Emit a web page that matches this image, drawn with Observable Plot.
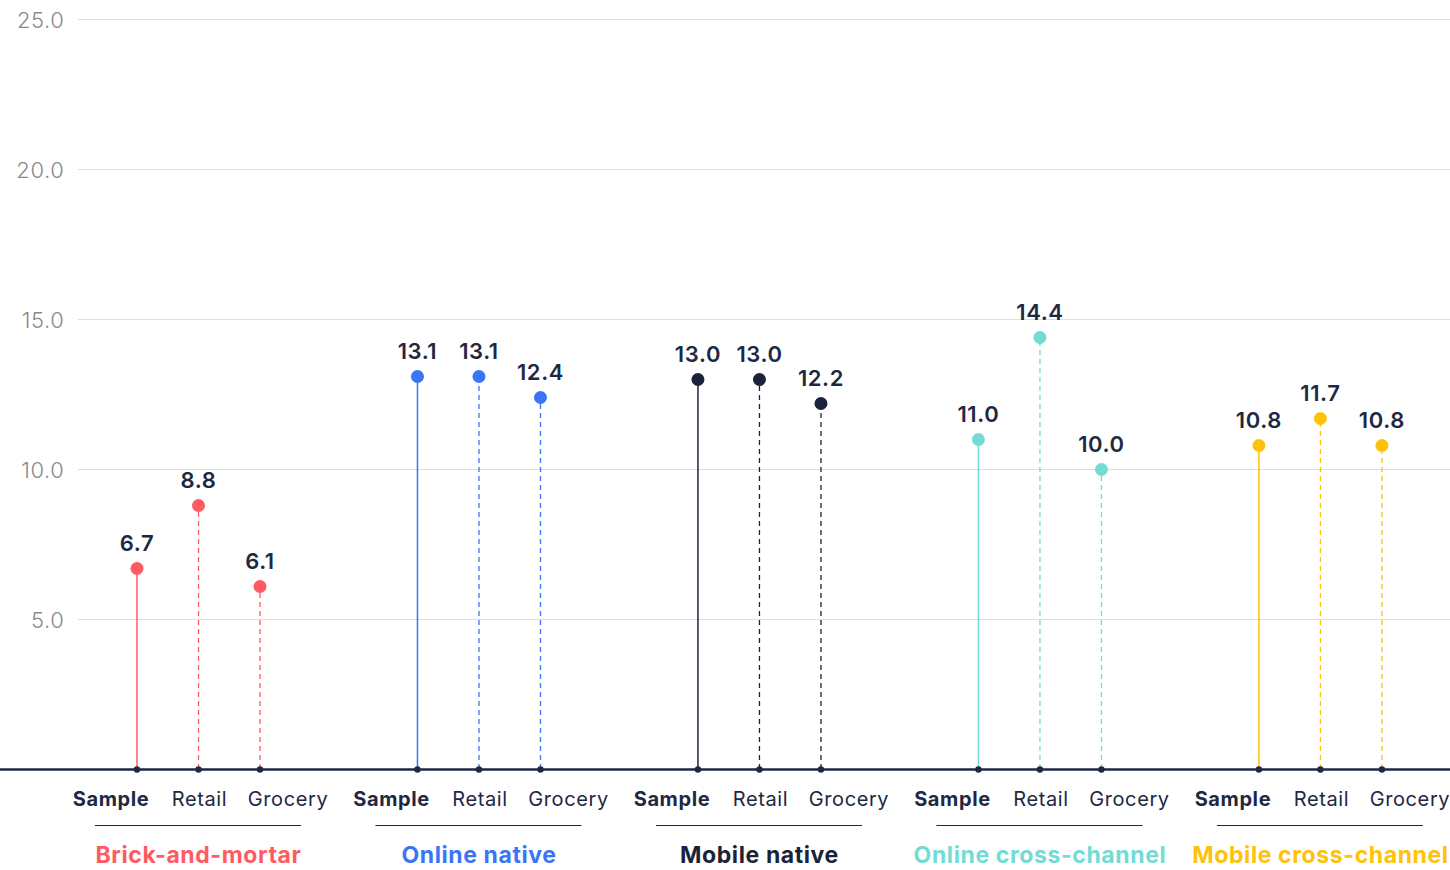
<!DOCTYPE html>
<html>
<head>
<meta charset="utf-8">
<script src="https://cdn.jsdelivr.net/npm/d3@7"></script>
<script src="https://cdn.jsdelivr.net/npm/@observablehq/plot@0.6"></script>
<style>
  html, body { margin: 0; padding: 0; background: #ffffff; }
  #chart svg { display: block; }
</style>
</head>
<body>
<div id="chart"></div>
<script>
// Store types and the three measures shown for each
const groups = ["Brick-and-mortar", "Online native", "Mobile native", "Online cross-channel", "Mobile cross-channel"];
const measures = ["Sample", "Retail", "Grocery"];
const groupColors = ["#ff5a5f", "#3a74f7", "#1b2339", "#72dcd4", "#ffc20a"];

// Values per store type, in the order Sample, Retail, Grocery
const sampleValues  = [6.7, 13.1, 13.0, 11.0, 10.8];
const retailValues  = [8.8, 13.1, 13.0, 14.4, 11.7];
const groceryValues = [6.1, 12.4, 12.2, 10.0, 10.8];

const yTicks = [5, 10, 15, 20, 25];

const ink = "#1e2842";
const font = "Inter, 'Noto Sans', sans-serif";

// Horizontal layout: measures one unit apart, store types spaced wider apart
const groupStep = 4.56;
const series = [sampleValues, retailValues, groceryValues];
const data = [];
groups.forEach((g, gi) => {
  measures.forEach((m, mi) => {
    data.push({
      group: g,
      measure: m,
      value: series[mi][gi],
      color: groupColors[gi],
      pos: gi * groupStep + mi
    });
  });
});
const centers = groups.map((g, gi) => ({group: g, color: groupColors[gi], pos: gi * groupStep + 1}));

const byMeasure = m => data.filter(d => d.measure === m);

const chart = Plot.plot({
  width: 1450,
  height: 870,
  marginTop: 19,
  marginBottom: 101,
  marginLeft: 78,
  marginRight: 0,
  style: {fontFamily: font, background: "#ffffff", letterSpacing: "0.6px"},
  x: {type: "linear", domain: [-0.951, 21.355], axis: null},
  y: {domain: [0, 25], axis: null},
  marks: [
    // gridlines
    Plot.ruleY(yTicks, {stroke: "#dedede", strokeWidth: 1}),
    // y tick labels
    Plot.text(yTicks, {
      y: d => d, frameAnchor: "left", dx: -14, dy: 1, textAnchor: "end",
      text: d => d.toFixed(1), fill: "#8a8a8a", fontSize: 22, fontWeight: 300
    }),
    // stems: solid for Sample, dashed for Retail and Grocery
    Plot.ruleX(byMeasure("Sample"), {x: "pos", y1: 0, y2: "value", stroke: "color", strokeWidth: 1.5}),
    Plot.ruleX(data.filter(d => d.measure !== "Sample"), {
      x: "pos", y1: 0, y2: "value", stroke: "color", strokeWidth: 1.3, strokeDasharray: "5,4"
    }),
    // baseline
    Plot.ruleY([0], {stroke: ink, strokeWidth: 2.5, insetLeft: -78}),
    // stem feet
    Plot.dot(data, {x: "pos", y: 0, r: 3.2, fill: ink}),
    // lollipop heads
    Plot.dot(data, {x: "pos", y: "value", r: 6.5, fill: "color"}),
    // value labels
    Plot.text(data, {
      x: "pos", y: "value", text: d => d.value.toFixed(1), dy: -25,
      fill: ink, fontSize: 22, fontWeight: 600
    }),
    // measure labels under the baseline
    Plot.text(byMeasure("Sample"), {
      x: "pos", y: 0, text: "measure", dy: 30, dx: -26, fill: ink, fontSize: 20, fontWeight: 700
    }),
    Plot.text(byMeasure("Retail"), {
      x: "pos", y: 0, text: "measure", dy: 30, dx: 1, fill: ink, fontSize: 20, fontWeight: 400
    }),
    Plot.text(byMeasure("Grocery"), {
      x: "pos", y: 0, text: "measure", dy: 30, dx: 28, fill: ink, fontSize: 20, fontWeight: 400
    }),
    // group underline
    Plot.ruleY(centers, {
      x1: d => d.pos - 1.675, x2: d => d.pos + 1.675, y: 0, dy: 56, stroke: ink, strokeWidth: 1
    }),
    // group names
    Plot.text(centers, {
      x: "pos", y: 0, text: "group", dy: 86, fill: "color", fontSize: 23, fontWeight: 700
    })
  ]
});

document.getElementById("chart").appendChild(chart);
</script>
</body>
</html>
